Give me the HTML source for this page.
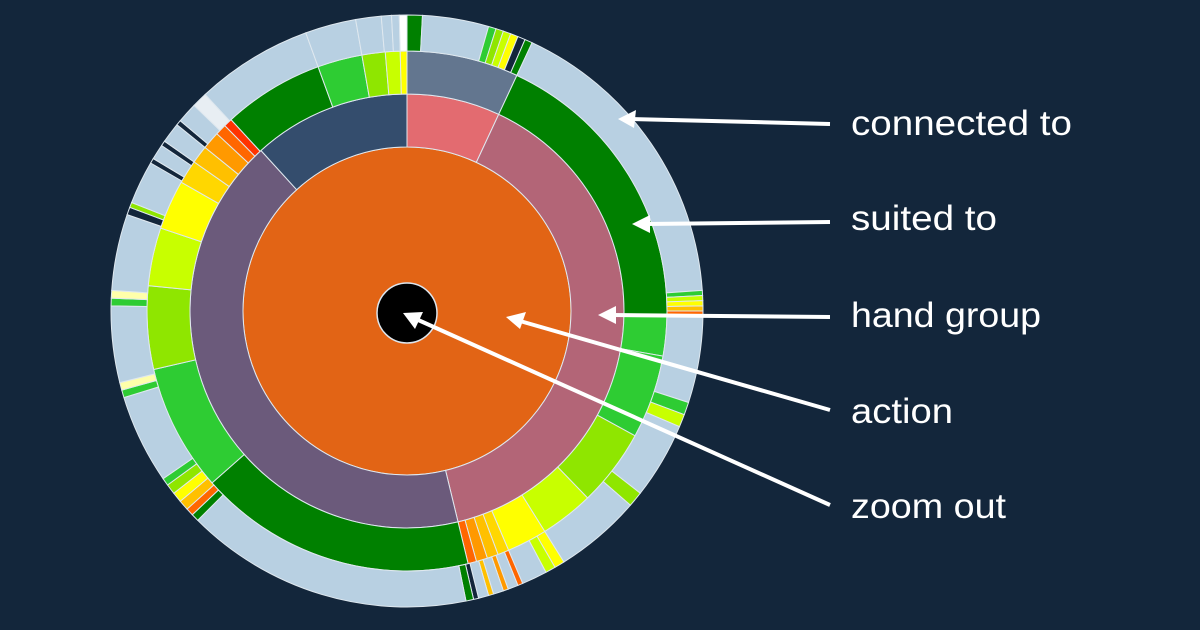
<!DOCTYPE html>
<html><head><meta charset="utf-8"><style>
html,body{margin:0;padding:0;background:#13263b;width:1200px;height:630px;overflow:hidden}
svg{display:block}
text{font-family:"Liberation Sans",sans-serif;font-size:35px;fill:#ffffff}
</style></head><body>
<svg id="s" width="1200" height="630" viewBox="0 0 1200 630">
<rect width="1200" height="630" fill="#13263b"/>
<circle cx="407" cy="311" r="164" fill="#e26415" stroke="#dfe8ef" stroke-width="1"/>
<g id="g"></g>
<circle cx="407" cy="313" r="30" fill="#000" stroke="#dde6ee" stroke-width="1.5"/>
<g stroke="#fff" stroke-width="4" fill="none">
<line x1="830" y1="124" x2="632" y2="119"/>
<line x1="830" y1="222" x2="646" y2="224"/>
<line x1="830" y1="317" x2="612" y2="315"/>
<line x1="830" y1="410" x2="520" y2="321"/>
<line x1="830" y1="505" x2="416" y2="319"/>
</g>
<g fill="#fff">
<polygon points="618,119 636,110 634,128"/>
<polygon points="632,224 650,215 650,233"/>
<polygon points="598,315 616,306 616,324"/>
<polygon points="506,317 526,312 520,329"/>
<polygon points="403,313 423,312 415,329"/>
</g>
<text x="851" y="135" textLength="221" lengthAdjust="spacingAndGlyphs">connected to</text>
<text x="851" y="230" textLength="146" lengthAdjust="spacingAndGlyphs">suited to</text>
<text x="851" y="327" textLength="190" lengthAdjust="spacingAndGlyphs">hand group</text>
<text x="851" y="423" textLength="102" lengthAdjust="spacingAndGlyphs">action</text>
<text x="851" y="518" textLength="155" lengthAdjust="spacingAndGlyphs">zoom out</text>
</svg>
<script>
var cx=407,cy=311,g=document.getElementById('g'),NS='http://www.w3.org/2000/svg';
function pt(r,a){a=a*Math.PI/180;return [cx+r*Math.sin(a),cy-r*Math.cos(a)];}
function arc(r0,r1,a0,a1,c,sc){
 var p=document.createElementNS(NS,'path');var L=(a1-a0)>180?1:0;
 var A=pt(r1,a0),B=pt(r1,a1),C=pt(r0,a1),D=pt(r0,a0);
 p.setAttribute('d','M'+A+'A'+r1+','+r1+' 0 '+L+' 1 '+B+'L'+C+'A'+r0+','+r0+' 0 '+L+' 0 '+D+'Z');
 p.setAttribute('fill',c);p.setAttribute('stroke',sc||'#dfe8ef');p.setAttribute('stroke-width','1');g.appendChild(p);}
arc(164,217,0,25,'#e36b70');arc(164,217,25,166.4,'#b36577');arc(164,217,166.4,317.7,'#6b5a7b');arc(164,217,317.7,360,'#344d6d');
var r2=[[0,25,'#63768f'],[25,91,'#008000'],[91,100,'#2ecc33'],[100,118.7,'#2ecc33'],[118.7,136,'#8fe600'],[136,148,'#c8ff00'],[148,157,'#ffff00'],[157,159.5,'#ffd700'],[159.5,162,'#ffc000'],[162,164.5,'#ff9900'],[164.5,166.4,'#ff6600'],[166.4,228.6,'#008000'],[228.6,257,'#2ecc33'],[257,275.6,'#8fe600'],[275.6,288.6,'#c8ff00'],[288.6,299.7,'#ffff00'],[299.7,305,'#ffd700'],[305,309,'#ffc000'],[309,313,'#ff9900'],[313,315.5,'#ff6600'],[315.5,317.4,'#ff3300'],[317.4,340,'#008000'],[340,350,'#2ecc33'],[350,355.2,'#8fe600'],[355.2,358.5,'#c8ff00'],[358.5,360,'#ffff00']];
r2.forEach(function(s){arc(217,260,s[0],s[1],s[2]);});
var lb='#b8d0e2';
var r3=[[0,3,'#008000'],[3,16,lb],[16,17.5,'#2ecc33'],[17.5,19,'#8fe600'],[19,20.5,'#c8ff00'],[20.5,22,'#ffff00'],[22,23.5,'#13263b'],[23.5,25,'#008000'],[25,86,lb],[86,87,'#2ecc33'],[87,88,'#c8ff00'],[88,89,'#ffff00'],[89,90,'#ffc000'],[90,91,'#ff6600'],[91,108,lb],[108,110.5,'#2ecc33'],[110.5,113,'#c8ff00'],[113,128,lb],[128,131,'#8fe600'],[131,148,lb],[148,150,'#ffff00'],[150,152,'#c8ff00'],[152,157,lb],[157,158,'#ff6600'],[158,160,lb],[160,161,'#ff9900'],[161,163,lb],[163,164,'#ffc000'],[164,166,lb],[166,167,'#13263b'],[167,168.5,'#008000'],[168.5,225,lb],[225,226.5,'#008000'],[226.5,228,'#ff6600'],[228,230,'#ffc000'],[230,232,'#ffff00'],[232,234,'#8fe600'],[234,235.5,'#2ecc33'],[235.5,253,lb],[253,254.5,'#2ecc33'],[254.5,256,'#ffffaa'],[256,271,lb],[271,272.5,'#2ecc33'],[272.5,274,'#ffffaa'],[274,289,lb],[289,290.5,'#13263b'],[290.5,291.5,'#8fe600'],[291.5,300,lb],[300,301,'#13263b'],[301,304,lb],[304,305,'#13263b'],[305,309,lb],[309,310,'#13263b'],[310,314,lb],[314,317,'#e8eef3'],[317,340,lb],[340,350,lb],[350,355,lb],[355,357,lb],[357,358.5,lb],[358.5,360,'#ffffff']];
r3.forEach(function(s){arc(260,296,s[0],s[1],s[2]);});
</script>
</body></html>
